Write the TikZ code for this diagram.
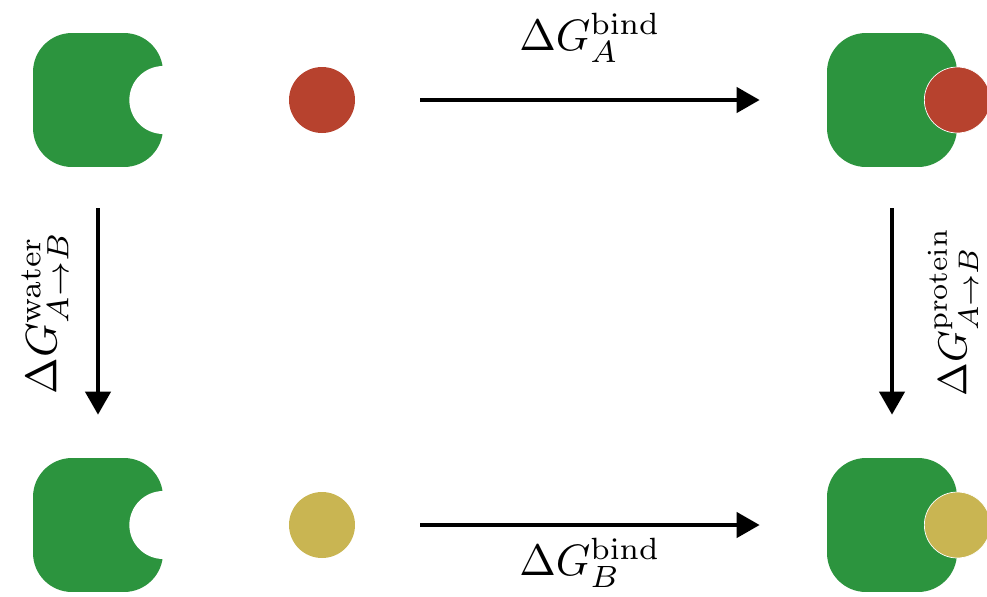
\documentclass[tikz,border=0pt]{standalone}
\usetikzlibrary{arrows.meta}

\definecolor{protgreen}{RGB}{44,148,62}
\definecolor{ligandA}{RGB}{183,66,46}
\definecolor{ligandB}{RGB}{201,181,82}

\tikzset{
    protein/.style={fill=protgreen, rounded corners=0.78cm, minimum width=2.6cm, minimum height=2.68cm, inner sep=0pt},
    pocket/.style={circle, fill=white, minimum size=1.36cm, inner sep=0pt},
    ligand/.style={circle, minimum size=1.32cm, inner sep=0pt},
    reaction/.style={line width=2.4pt, -{Triangle[length=0.46cm, width=0.5cm]}},
    energy/.style={scale=2.5, inner sep=0pt}
}

\begin{document}
\begin{tikzpicture}[x=0.02cm, y=-0.02cm]
    \useasboundingbox (0,0) rectangle (987,596);

    % apo protein and free ligands
    \node[protein] (protA) at (98,100) {};
    \node[pocket] (pocketA) at (protA.east) {};
    \node[ligand, fill=ligandA] (ligA) at (322,100) {};

    \node[protein] (protB) at (98,525) {};
    \node[pocket] (pocketB) at (protB.east) {};
    \node[ligand, fill=ligandB] (ligB) at (322,525) {};

    % bound complexes
    \node[protein] (cplxA) at (892,100) {};
    \node[ligand, fill=ligandA, draw=white, line width=0.4pt] (boundA) at (cplxA.east) {};

    \node[protein] (cplxB) at (892,525) {};
    \node[ligand, fill=ligandB, draw=white, line width=0.4pt] (boundB) at (cplxB.east) {};

    % cycle arrows
    \draw[reaction, shorten <=1.3cm, shorten >=1.34cm] (ligA.east) -- (cplxA.west);
    \draw[reaction, shorten <=1.3cm, shorten >=1.34cm] (ligB.east) -- (cplxB.west);
    \draw[reaction, shorten <=0.82cm, shorten >=0.86cm] (protA.south) -- (protB.north);
    \draw[reaction, shorten <=0.82cm, shorten >=0.86cm] (cplxA.south) -- (cplxB.north);

    % free energy labels
    \node[energy] (dGbindA) at (590,38) {$\Delta G_A^{\mathrm{bind}}$};
    \node[energy] (dGbindB) at (590,563) {$\Delta G_B^{\mathrm{bind}}$};
    \node[energy, rotate=90] (dGwater) at (45,313) {$\Delta G_{A\rightarrow B}^{\mathrm{water}}$};
    \node[energy, scale=0.92, rotate=90] (dGprotein) at (953,312) {$\Delta G_{A\rightarrow B}^{\mathrm{protein}}$};
\end{tikzpicture}
\end{document}
